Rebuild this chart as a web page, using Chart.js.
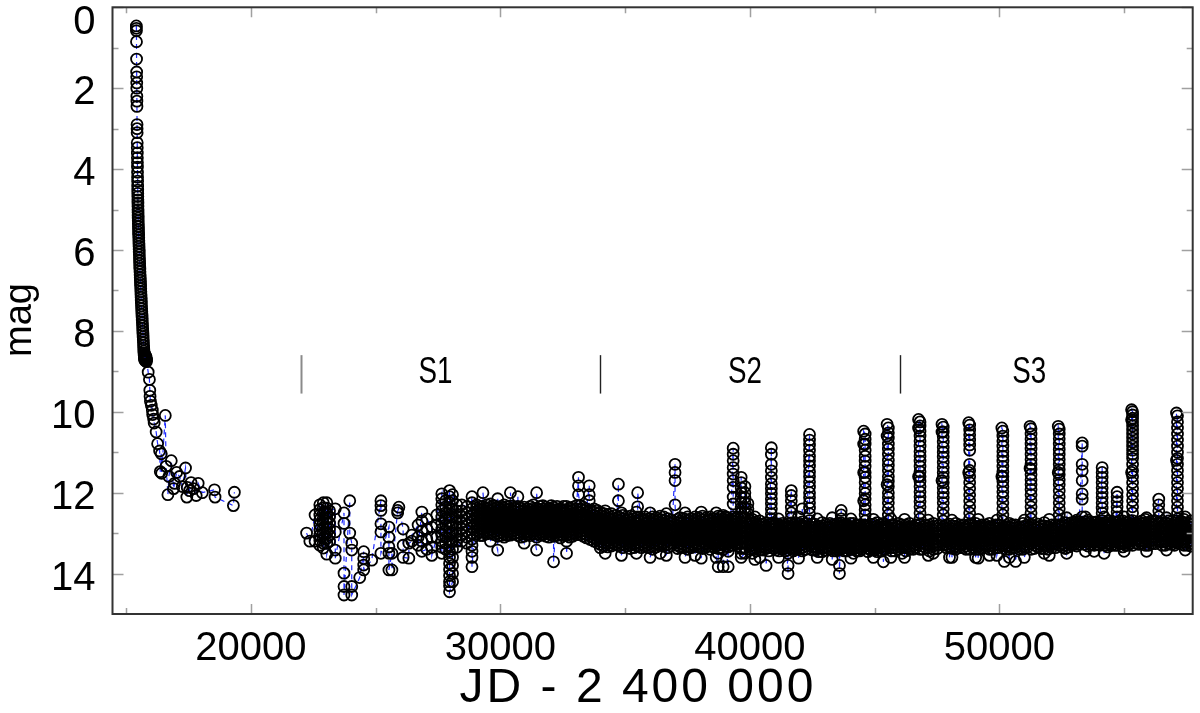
<!DOCTYPE html>
<html>
<head>
<meta charset="utf-8">
<script src="https://cdn.jsdelivr.net/npm/chart.js@4.4.1/dist/chart.umd.min.js"></script>
<style>
  html, body { margin: 0; padding: 0; background: #fff; }
</style>
</head>
<body>
<canvas id="lightCurve" width="1200" height="713"></canvas>
<script>
// axis ticks
const xMajor = [20000, 30000, 40000, 50000];
const xMinor = [15000, 25000, 35000, 45000, 55000];
const yMajor = [0, 2, 4, 6, 8, 10, 12, 14];
const yMinor = [1, 3, 5, 7, 9, 11, 13];

// season boundaries and their names
const segEdges = [22000, 34000, 46000];
const segNames = ["S1", "S2", "S3"];
const segNameJD = [27400, 39800, 51200];

// nova outburst and decline (JD - 2400000, mag)
const novaJD = [15405, 15407, 15409, 15412, 15415, 15418, 15420, 15422, 15424, 15426, 15428, 15430,
  15434, 15436, 15438, 15441, 15443, 15445, 15447, 15449, 15451, 15453, 15455, 15457, 15459, 15461,
  15463, 15465, 15467, 15469, 15471, 15473, 15475, 15477, 15480, 15483, 15486, 15489, 15492, 15495,
  15498, 15502, 15506, 15510, 15514, 15518, 15522, 15526, 15530, 15534, 15538, 15542, 15547, 15552,
  15557, 15562, 15567, 15572, 15577, 15582, 15587, 15592, 15597, 15602, 15607, 15612, 15618, 15624,
  15630, 15636, 15642, 15648, 15654, 15660, 15666, 15672, 15678, 15684, 15690, 15696, 15702, 15708,
  15714, 15720, 15726, 15732, 15738, 15744, 15750, 15756, 15762, 15768, 15774, 15780, 15786, 15792,
  15798, 15804, 15810, 15816,
  15880, 15930, 15945, 15955, 15970, 16006, 16046, 16060, 16098, 16120, 16200, 16258, 16338, 16366,
  16406, 16420, 16566, 16600, 16670, 16710, 16806, 16900, 16938, 17020, 17137, 17250, 17377, 17429,
  17445, 17537, 17600, 17700, 17805, 17885, 18050, 18537, 18560, 19296, 19336];
const novaMag = [0.46, 0.52, 0.58, 0.85, 1.28, 1.6, 1.72, 1.87, 2.0, 2.2, 2.32, 2.45,
  2.9, 3.0, 3.1, 3.35, 3.47, 3.6, 3.72, 3.84, 3.95, 4.08, 4.2, 4.3, 4.42, 4.52,
  4.6, 4.68, 4.76, 4.84, 4.92, 5.0, 5.07, 5.14, 5.21, 5.28, 5.35, 5.42, 5.49, 5.56,
  5.63, 5.7, 5.77, 5.84, 5.91, 5.98, 6.05, 6.12, 6.19, 6.26, 6.33, 6.4, 6.47, 6.54,
  6.61, 6.68, 6.75, 6.82, 6.89, 6.96, 7.03, 7.1, 7.17, 7.24, 7.31, 7.38, 7.45, 7.52,
  7.59, 7.66, 7.73, 7.8, 7.87, 7.94, 8.01, 8.08, 8.15, 8.22, 8.29, 8.36, 8.43, 8.5,
  8.55, 8.6, 8.64, 8.68, 8.72, 8.58, 8.63, 8.7, 8.74, 8.66, 8.71, 8.62, 8.69, 8.73,
  8.65, 8.7, 8.76, 8.72,
  9.02, 9.2, 9.47, 9.62, 9.74, 9.84, 9.96, 10.07, 10.18, 10.28, 10.5, 10.79, 10.97, 11.48,
  11.04, 11.52, 10.09, 11.35, 12.05, 11.6, 11.21, 11.9, 11.77, 11.5, 11.6, 11.85, 11.39, 12.11,
  11.87, 11.95, 11.75, 11.9, 12.07, 11.77, 12.0, 11.93, 12.11, 12.32, 11.99];

// quiescent light curve: [JD, mags observed around that date...]
const bandRows = [
  [22230, 13.0], [22360, 13.2], [22570, 12.55, 13.2],
  [22760, 12.3, 12.42, 12.55, 12.67, 12.8, 12.92, 13.05, 13.18, 13.3],
  [22900, 13.37, 13.25, 13.12, 13.0, 12.87, 12.75, 12.62, 12.5, 12.37, 12.25],
  [23040, 12.25, 12.38, 12.5, 12.63, 12.75, 12.88, 13.0, 13.13, 13.25, 13.52],
  [23150, 13.2, 13.05, 12.9, 12.75, 12.6, 12.45],
  [23380, 12.4, 12.97, 13.42, 13.62],
  [23730, 12.5, 12.76, 13.99, 14.32, 14.53],
  [23960, 12.2, 13.0],
  [24040, 13.25, 13.42, 14.32, 14.53],
  [24360, 14.1],
  [24520, 13.46, 13.63, 13.79, 13.91],
  [24840, 13.67],
  [25210, 12.2, 12.32, 12.44, 12.77, 12.97, 13.5],
  [25530, 12.85, 13.1, 13.34, 13.5, 13.91],
  [25650, 13.5, 13.91],
  [25880, 12.44, 12.5], [25930, 12.36],
  [26100, 12.9, 13.3, 13.6],
  [26330, 13.62, 13.25], [26450, 13.2, 13.05],
  [26700, 12.8, 13.1, 13.3],
  [26850, 12.48, 12.7, 12.95, 13.2, 13.45],
  [27050, 13.4, 13.15, 12.9, 12.65],
  [27250, 12.85, 13.1, 13.35, 13.55],
  [27450, 13.1, 12.8, 12.55],
  [27650, 12.03, 12.15, 12.3, 12.45, 12.6, 12.75, 12.9, 13.05, 13.2, 13.35, 13.5],
  [27800, 13.4, 13.25, 13.1, 12.95, 12.8, 12.65, 12.5, 12.35, 12.2],
  [27960, 11.95, 12.1, 12.25, 12.4, 12.55, 12.7, 12.85, 13.0, 13.15, 13.3, 13.45, 13.6, 13.75, 13.9, 14.05, 14.2, 14.3, 14.45],
  [28080, 14.2, 14.0, 13.8, 13.6, 13.4, 13.2, 13.0, 12.8, 12.6, 12.4, 12.2, 12.05],
  [28250, 12.3, 12.45, 12.6, 12.75, 12.9, 13.05, 13.2, 13.35],
  [28450, 13.2, 13.05, 12.9, 12.75, 12.6, 12.45, 12.3],
  [28650, 12.35, 12.5, 12.65, 12.8, 12.95, 13.1, 13.25],
  [28860, 12.1, 12.25, 12.4, 12.55, 12.7, 12.85, 13.0, 13.15, 13.3, 13.45, 13.6, 13.83],
  [29050, 12.3, 12.38, 12.46, 12.54, 12.62, 12.7, 12.78, 12.86, 12.94, 13.02],
  [29300, 13.06, 12.98, 12.9, 12.82, 12.74, 12.66, 12.58, 12.5, 12.42, 12.34, 12.0],
  [29600, 12.28, 12.36, 12.44, 12.52, 12.6, 12.68, 12.76, 12.84, 12.92, 13.0, 13.2],
  [29890, 13.42, 13.08, 13.0, 12.92, 12.84, 12.76, 12.68, 12.6, 12.52, 12.44, 12.36, 12.15],
  [30150, 12.3, 12.38, 12.46, 12.54, 12.62, 12.7, 12.78, 12.86, 12.94, 13.02, 13.1],
  [30400, 13.05, 12.97, 12.89, 12.81, 12.73, 12.65, 12.57, 12.49, 12.41, 12.33, 12.0],
  [30700, 12.1, 12.34, 12.42, 12.5, 12.58, 12.66, 12.74, 12.82, 12.9, 12.98, 13.06],
  [30950, 13.25, 13.08, 13.0, 12.92, 12.84, 12.76, 12.68, 12.6, 12.52, 12.44, 12.36],
  [31200, 12.34, 12.42, 12.5, 12.58, 12.66, 12.74, 12.82, 12.9, 12.98, 13.06],
  [31450, 13.42, 13.1, 13.02, 12.94, 12.86, 12.78, 12.7, 12.62, 12.54, 12.46, 12.38, 12.0],
  [31700, 12.32, 12.4, 12.48, 12.56, 12.64, 12.72, 12.8, 12.88, 12.96, 13.04],
  [31950, 13.1, 13.02, 12.94, 12.86, 12.78, 12.7, 12.62, 12.54, 12.46, 12.38],
  [32130, 12.36, 12.44, 12.52, 12.6, 12.68, 12.76, 12.84, 12.92, 13.0, 13.08, 13.71],
  [32400, 13.12, 13.04, 12.96, 12.88, 12.8, 12.72, 12.64, 12.56, 12.48, 12.4],
  [32650, 12.34, 12.42, 12.5, 12.58, 12.66, 12.74, 12.82, 12.9, 12.98, 13.06, 13.2, 13.5],
  [32900, 13.08, 13.0, 12.92, 12.84, 12.76, 12.68, 12.6, 12.52, 12.44, 12.36],
  [33200, 12.32, 12.4, 12.48, 12.56, 12.64, 12.72, 12.8, 12.88, 12.96, 13.04],
  [33450, 13.12, 13.04, 12.96, 12.88, 12.8, 12.72, 12.64, 12.56, 12.48, 12.4],
  [33750, 12.4, 12.48, 12.56, 12.64, 12.72, 12.8, 12.88, 12.96, 13.04, 13.12, 13.2],
  [34000, 12.48, 12.56, 12.64, 12.72, 12.8, 12.88, 12.96, 13.04, 13.12, 13.2, 13.28, 13.36],
  [34300, 13.34, 13.26, 13.18, 13.1, 13.02, 12.94, 12.86, 12.78, 12.7, 12.62, 12.54],
  [34600, 12.56, 12.64, 12.72, 12.8, 12.88, 12.96, 13.04, 13.12, 13.2, 13.28],
  [34900, 13.36, 13.28, 13.2, 13.12, 13.04, 12.96, 12.88, 12.8, 12.72, 12.64, 12.56],
  [35200, 12.58, 12.66, 12.74, 12.82, 12.9, 12.98, 13.06, 13.14, 13.22, 13.3, 13.38],
  [35500, 13.32, 13.24, 13.16, 13.08, 13.0, 12.92, 12.84, 12.76, 12.68, 12.6, 12.35, 12.0],
  [35800, 12.6, 12.68, 12.76, 12.84, 12.92, 13.0, 13.08, 13.16, 13.24, 13.32],
  [36100, 13.4, 13.32, 13.24, 13.16, 13.08, 13.0, 12.92, 12.84, 12.76, 12.68, 12.6],
  [36400, 12.58, 12.66, 12.74, 12.82, 12.9, 12.98, 13.06, 13.14, 13.22, 13.3, 13.5],
  [36700, 13.36, 13.28, 13.2, 13.12, 13.04, 12.96, 12.88, 12.8, 12.72, 12.64],
  [37200, 12.62, 12.7, 12.78, 12.86, 12.94, 13.02, 13.1, 13.18, 13.26, 13.34],
  [37500, 13.4, 13.32, 13.24, 13.16, 13.08, 13.0, 12.92, 12.84, 12.76, 12.68, 12.6],
  [37800, 12.6, 12.68, 12.76, 12.84, 12.92, 13.0, 13.08, 13.16, 13.24, 13.32, 13.55],
  [38100, 13.38, 13.3, 13.22, 13.14, 13.06, 12.98, 12.9, 12.82, 12.74, 12.66, 12.58],
  [38400, 12.6, 12.68, 12.76, 12.84, 12.92, 13.0, 13.08, 13.16, 13.24, 13.32, 13.4],
  [38730, 13.83, 13.5, 13.38, 13.3, 13.22, 13.14, 13.06, 12.98, 12.9, 12.82, 12.74, 12.66, 12.58],
  [38930, 12.56, 12.64, 12.72, 12.8, 12.88, 12.96, 13.04, 13.12, 13.2, 13.28, 13.4, 13.83],
  [39130, 13.83, 13.45, 13.34, 13.26, 13.18, 13.1, 13.02, 12.94, 12.86, 12.78, 12.7, 12.62],
  [39500, 12.6, 12.68, 12.76, 12.84, 12.92, 13.0, 13.08, 13.16, 13.24, 13.32],
  [40100, 12.66, 12.74, 12.82, 12.9, 12.98, 13.06, 13.14, 13.22, 13.3, 13.38, 13.5],
  [40400, 13.6, 13.42, 13.34, 13.26, 13.18, 13.1, 13.02, 12.94, 12.86, 12.78, 12.7],
  [40650, 12.74, 12.82, 12.9, 12.98, 13.06, 13.14, 13.22, 13.3, 13.38, 13.8],
  [41050, 13.42, 13.34, 13.26, 13.18, 13.1, 13.02, 12.94, 12.86, 12.78],
  [41300, 12.76, 12.84, 12.92, 13.0, 13.08, 13.16, 13.24, 13.32, 13.4],
  [41530, 14.0, 13.8, 13.5, 13.42, 13.34, 13.26, 13.18, 13.1, 13.02, 12.94, 12.86, 12.78],
  [41850, 12.76, 12.84, 12.92, 13.0, 13.08, 13.16, 13.24, 13.32, 13.4],
  [42100, 13.44, 13.36, 13.28, 13.2, 13.12, 13.04, 12.96, 12.88, 12.8, 12.72, 12.4],
  [42600, 12.78, 12.86, 12.94, 13.02, 13.1, 13.18, 13.26, 13.34, 13.42],
  [42900, 13.46, 13.38, 13.3, 13.22, 13.14, 13.06, 12.98, 12.9, 12.82, 12.74],
  [43200, 12.76, 12.84, 12.92, 13.0, 13.08, 13.16, 13.24, 13.32, 13.4],
  [43450, 13.44, 13.36, 13.28, 13.2, 13.12, 13.04, 12.96, 12.88, 12.8],
  [43590, 12.78, 12.86, 12.94, 13.02, 13.1, 13.18, 13.26, 13.34, 13.42, 13.8, 14.0],
  [43900, 13.44, 13.36, 13.28, 13.2, 13.12, 13.04, 12.96, 12.88, 12.8],
  [44150, 12.76, 12.84, 12.92, 13.0, 13.08, 13.16, 13.24, 13.32, 13.4, 13.5],
  [44400, 13.44, 13.36, 13.28, 13.2, 13.12, 13.04, 12.96, 12.88, 12.8],
  [44850, 12.78, 12.86, 12.94, 13.02, 13.1, 13.18, 13.26, 13.34, 13.42],
  [45100, 13.46, 13.38, 13.3, 13.22, 13.14, 13.06, 12.98, 12.9, 12.82, 12.74],
  [45350, 12.76, 12.84, 12.92, 13.0, 13.08, 13.16, 13.24, 13.32, 13.4, 13.71],
  [45800, 13.44, 13.36, 13.28, 13.2, 13.12, 13.04, 12.96, 12.88, 12.8],
  [46100, 12.8, 12.88, 12.96, 13.04, 13.12, 13.2, 13.28, 13.36, 13.5],
  [46400, 13.4, 13.32, 13.24, 13.16, 13.08, 13.0, 12.92, 12.84, 12.76],
  [47050, 12.8, 12.88, 12.96, 13.04, 13.12, 13.2, 13.28, 13.36],
  [47350, 13.5, 13.4, 13.32, 13.24, 13.16, 13.08, 13.0, 12.92, 12.84, 12.76],
  [48000, 12.78, 12.86, 12.94, 13.02, 13.1, 13.18, 13.26, 13.34, 13.6],
  [48250, 13.4, 13.32, 13.24, 13.16, 13.08, 13.0, 12.92, 12.84, 12.76],
  [48550, 12.8, 12.88, 12.96, 13.04, 13.12, 13.2, 13.28, 13.36],
  [49050, 13.6, 13.4, 13.32, 13.24, 13.16, 13.08, 13.0, 12.92, 12.84, 12.76],
  [49300, 12.8, 12.88, 12.96, 13.04, 13.12, 13.2, 13.28, 13.36],
  [49600, 13.55, 13.4, 13.32, 13.24, 13.16, 13.08, 13.0, 12.92, 12.84, 12.76],
  [49850, 12.8, 12.88, 12.96, 13.04, 13.12, 13.2, 13.28, 13.36],
  [50400, 13.6, 13.4, 13.32, 13.24, 13.16, 13.08, 13.0, 12.92, 12.84, 12.76],
  [50650, 12.8, 12.88, 12.96, 13.04, 13.12, 13.2, 13.28, 13.36, 13.7],
  [50950, 13.4, 13.32, 13.24, 13.16, 13.08, 13.0, 12.92, 12.84, 12.76],
  [51550, 12.78, 12.86, 12.94, 13.02, 13.1, 13.18, 13.26, 13.34],
  [51800, 13.5, 13.38, 13.3, 13.22, 13.14, 13.06, 12.98, 12.9, 12.82, 12.74],
  [52100, 12.8, 12.88, 12.96, 13.04, 13.12, 13.2, 13.28, 13.36],
  [52650, 13.38, 13.3, 13.22, 13.14, 13.06, 12.98, 12.9, 12.82, 12.74],
  [52900, 12.74, 12.82, 12.9, 12.98, 13.06, 13.14, 13.22, 13.3],
  [53100, 13.32, 13.24, 13.16, 13.08, 13.0, 12.92, 12.84, 12.76, 12.68],
  [53550, 12.68, 12.76, 12.84, 12.92, 13.0, 13.08, 13.16, 13.24, 13.32],
  [53800, 13.45, 13.3, 13.22, 13.14, 13.06, 12.98, 12.9, 12.82, 12.74],
  [54350, 12.7, 12.78, 12.86, 12.94, 13.02, 13.1, 13.18, 13.26, 13.34],
  [54500, 13.3, 13.22, 13.14, 13.06, 12.98, 12.9, 12.82, 12.74],
  [54950, 12.7, 12.78, 12.86, 12.94, 13.02, 13.1, 13.18, 13.26, 13.34],
  [55150, 13.3, 13.22, 13.14, 13.06, 12.98, 12.9, 12.82, 12.74],
  [55600, 12.72, 12.8, 12.88, 12.96, 13.04, 13.12, 13.2, 13.28],
  [55850, 13.3, 13.22, 13.14, 13.06, 12.98, 12.9, 12.82, 12.74, 12.66],
  [56100, 12.7, 12.78, 12.86, 12.94, 13.02, 13.1, 13.18, 13.26],
  [56650, 13.3, 13.22, 13.14, 13.06, 12.98, 12.9, 12.82, 12.74],
  [56900, 12.72, 12.8, 12.88, 12.96, 13.04, 13.12, 13.2, 13.28],
  [57400, 13.3, 13.22, 13.14, 13.06, 12.98, 12.9, 12.82, 12.74, 12.66],
  [57680, 12.7, 12.78, 12.86, 12.94, 13.02, 13.1, 13.18, 13.26, 13.32]
];

// more nights inside the dense quiescent band, between the columns above
const bandFillRows = [
  [29180, 12.34, 12.42, 12.5, 12.58, 12.66, 12.74, 12.82, 12.9, 12.98, 13.06],
  [29450, 13.02, 12.94, 12.86, 12.78, 12.7, 12.62, 12.54, 12.46, 12.38, 12.3],
  [29750, 12.32, 12.4, 12.48, 12.56, 12.64, 12.72, 12.8, 12.88, 12.96, 13.04],
  [30020, 13.06, 12.98, 12.9, 12.82, 12.74, 12.66, 12.58, 12.5, 12.42, 12.34],
  [30280, 12.34, 12.42, 12.5, 12.58, 12.66, 12.74, 12.82, 12.9, 12.98, 13.06],
  [30550, 13.02, 12.94, 12.86, 12.78, 12.7, 12.62, 12.54, 12.46, 12.38],
  [30820, 12.38, 12.46, 12.54, 12.62, 12.7, 12.78, 12.86, 12.94, 13.02, 13.1],
  [31080, 13.04, 12.96, 12.88, 12.8, 12.72, 12.64, 12.56, 12.48, 12.4],
  [31320, 12.3, 12.38, 12.46, 12.54, 12.62, 12.7, 12.78, 12.86, 12.94, 13.02],
  [31580, 13.06, 12.98, 12.9, 12.82, 12.74, 12.66, 12.58, 12.5, 12.42, 12.34],
  [31820, 12.36, 12.44, 12.52, 12.6, 12.68, 12.76, 12.84, 12.92, 13.0, 13.08],
  [32040, 13.04, 12.96, 12.88, 12.8, 12.72, 12.64, 12.56, 12.48, 12.4, 12.32],
  [32270, 12.34, 12.42, 12.5, 12.58, 12.66, 12.74, 12.82, 12.9, 12.98, 13.06],
  [32520, 13.06, 12.98, 12.9, 12.82, 12.74, 12.66, 12.58, 12.5, 12.42, 12.34],
  [32780, 12.38, 12.46, 12.54, 12.62, 12.7, 12.78, 12.86, 12.94, 13.02, 13.1],
  [33050, 13.04, 12.96, 12.88, 12.8, 12.72, 12.64, 12.56, 12.48, 12.4, 12.32],
  [33320, 12.36, 12.44, 12.52, 12.6, 12.68, 12.76, 12.84, 12.92, 13.0, 13.08],
  [33600, 13.16, 13.08, 13.0, 12.92, 12.84, 12.76, 12.68, 12.6, 12.52, 12.44],
  [33880, 12.44, 12.52, 12.6, 12.68, 12.76, 12.84, 12.92, 13.0, 13.08, 13.16, 13.24],
  [34150, 13.32, 13.24, 13.16, 13.08, 13.0, 12.92, 12.84, 12.76, 12.68, 12.6, 12.52],
  [34450, 12.52, 12.6, 12.68, 12.76, 12.84, 12.92, 13.0, 13.08, 13.16, 13.24, 13.32],
  [34750, 13.32, 13.24, 13.16, 13.08, 13.0, 12.92, 12.84, 12.76, 12.68, 12.6],
  [35050, 12.6, 12.68, 12.76, 12.84, 12.92, 13.0, 13.08, 13.16, 13.24, 13.32],
  [35350, 13.36, 13.28, 13.2, 13.12, 13.04, 12.96, 12.88, 12.8, 12.72, 12.64],
  [35650, 12.64, 12.72, 12.8, 12.88, 12.96, 13.04, 13.12, 13.2, 13.28, 13.36],
  [35950, 13.36, 13.28, 13.2, 13.12, 13.04, 12.96, 12.88, 12.8, 12.72, 12.64],
  [36250, 12.62, 12.7, 12.78, 12.86, 12.94, 13.02, 13.1, 13.18, 13.26, 13.34],
  [36550, 13.32, 13.24, 13.16, 13.08, 13.0, 12.92, 12.84, 12.76, 12.68, 12.6],
  [36850, 12.68, 12.76, 12.84, 12.92, 13.0, 13.08, 13.16, 13.24, 13.32],
  [37100, 13.38, 13.3, 13.22, 13.14, 13.06, 12.98, 12.9, 12.82, 12.74, 12.66],
  [37350, 12.64, 12.72, 12.8, 12.88, 12.96, 13.04, 13.12, 13.2, 13.28, 13.36],
  [37650, 13.36, 13.28, 13.2, 13.12, 13.04, 12.96, 12.88, 12.8, 12.72, 12.64],
  [37950, 12.62, 12.7, 12.78, 12.86, 12.94, 13.02, 13.1, 13.18, 13.26, 13.34],
  [38250, 13.34, 13.26, 13.18, 13.1, 13.02, 12.94, 12.86, 12.78, 12.7, 12.62],
  [38570, 12.64, 12.72, 12.8, 12.88, 12.96, 13.04, 13.12, 13.2, 13.28, 13.36],
  [38830, 13.36, 13.24, 13.16, 13.08, 13.0, 12.92, 12.84, 12.76, 12.68, 12.6],
  [39030, 12.6, 12.68, 12.76, 12.84, 12.92, 13.0, 13.08, 13.16, 13.24, 13.32],
  [39230, 13.3, 13.22, 13.14, 13.06, 12.98, 12.9, 12.82, 12.74, 12.66],
  [39420, 12.64, 12.72, 12.8, 12.88, 12.96, 13.04, 13.12, 13.2, 13.28],
  [40000, 13.4, 13.32, 13.24, 13.16, 13.08, 13.0, 12.92, 12.84, 12.76, 12.68],
  [40250, 12.72, 12.8, 12.88, 12.96, 13.04, 13.12, 13.2, 13.28, 13.36, 13.44],
  [40530, 13.42, 13.34, 13.26, 13.18, 13.1, 13.02, 12.94, 12.86, 12.78],
  [40760, 12.8, 12.88, 12.96, 13.04, 13.12, 13.2, 13.28, 13.36, 13.44],
  [40950, 13.38, 13.3, 13.22, 13.14, 13.06, 12.98, 12.9, 12.82, 12.74],
  [41180, 12.8, 12.88, 12.96, 13.04, 13.12, 13.2, 13.28, 13.36, 13.44],
  [41420, 13.44, 13.36, 13.28, 13.2, 13.12, 13.04, 12.96, 12.88, 12.8],
  [41740, 12.8, 12.88, 12.96, 13.04, 13.12, 13.2, 13.28, 13.36, 13.44],
  [41980, 13.4, 13.32, 13.24, 13.16, 13.08, 13.0, 12.92, 12.84, 12.76],
  [42250, 12.76, 12.84, 12.92, 13.0, 13.08, 13.16, 13.24, 13.32, 13.4],
  [42500, 13.42, 13.34, 13.26, 13.18, 13.1, 13.02, 12.94, 12.86, 12.78],
  [42750, 12.82, 12.9, 12.98, 13.06, 13.14, 13.22, 13.3, 13.38, 13.46],
  [43050, 13.42, 13.34, 13.26, 13.18, 13.1, 13.02, 12.94, 12.86, 12.78],
  [43330, 12.8, 12.88, 12.96, 13.04, 13.12, 13.2, 13.28, 13.36, 13.44],
  [43520, 13.4, 13.32, 13.24, 13.16, 13.08, 13.0, 12.92, 12.84, 12.76],
  [43780, 12.8, 12.88, 12.96, 13.04, 13.12, 13.2, 13.28, 13.36, 13.44],
  [44020, 13.4, 13.32, 13.24, 13.16, 13.08, 13.0, 12.92, 12.84, 12.76],
  [44280, 12.8, 12.88, 12.96, 13.04, 13.12, 13.2, 13.28, 13.36, 13.44],
  [44480, 13.4, 13.32, 13.24, 13.16, 13.08, 13.0, 12.92, 12.84],
  [44730, 12.82, 12.9, 12.98, 13.06, 13.14, 13.22, 13.3, 13.38, 13.46],
  [44980, 13.42, 13.34, 13.26, 13.18, 13.1, 13.02, 12.94, 12.86, 12.78],
  [45230, 12.8, 12.88, 12.96, 13.04, 13.12, 13.2, 13.28, 13.36, 13.44],
  [45430, 13.4, 13.32, 13.24, 13.16, 13.08, 13.0, 12.92, 12.84],
  [45680, 12.8, 12.88, 12.96, 13.04, 13.12, 13.2, 13.28, 13.36, 13.44],
  [45950, 13.4, 13.32, 13.24, 13.16, 13.08, 13.0, 12.92, 12.84, 12.76],
  [46250, 13.44, 13.36, 13.28, 13.2, 13.12, 13.04, 12.96, 12.88, 12.8],
  [46550, 12.84, 12.92, 13.0, 13.08, 13.16, 13.24, 13.32, 13.4],
  [46650, 13.36, 13.28, 13.2, 13.12, 13.04, 12.96, 12.88, 12.8],
  [46930, 12.84, 12.92, 13.0, 13.08, 13.16, 13.24, 13.32, 13.4],
  [47200, 13.44, 13.36, 13.28, 13.2, 13.12, 13.04, 12.96, 12.88, 12.8],
  [47520, 12.82, 12.9, 12.98, 13.06, 13.14, 13.22, 13.3, 13.38],
  [47870, 13.36, 13.28, 13.2, 13.12, 13.04, 12.96, 12.88, 12.8],
  [48120, 12.82, 12.9, 12.98, 13.06, 13.14, 13.22, 13.3, 13.38],
  [48400, 13.36, 13.28, 13.2, 13.12, 13.04, 12.96, 12.88, 12.8],
  [48660, 12.84, 12.92, 13.0, 13.08, 13.16, 13.24, 13.32, 13.4],
  [48930, 13.36, 13.28, 13.2, 13.12, 13.04, 12.96, 12.88, 12.8],
  [49180, 12.84, 12.92, 13.0, 13.08, 13.16, 13.24, 13.32, 13.4],
  [49450, 13.36, 13.28, 13.2, 13.12, 13.04, 12.96, 12.88, 12.8],
  [49730, 12.84, 12.92, 13.0, 13.08, 13.16, 13.24, 13.32, 13.4],
  [49980, 13.36, 13.28, 13.2, 13.12, 13.04, 12.96, 12.88, 12.8],
  [50270, 12.84, 12.92, 13.0, 13.08, 13.16, 13.24, 13.32, 13.4],
  [50520, 13.36, 13.28, 13.2, 13.12, 13.04, 12.96, 12.88, 12.8],
  [50800, 12.84, 12.92, 13.0, 13.08, 13.16, 13.24, 13.32, 13.4],
  [51100, 13.36, 13.28, 13.2, 13.12, 13.04, 12.96, 12.88, 12.8],
  [51400, 12.82, 12.9, 12.98, 13.06, 13.14, 13.22, 13.3, 13.38],
  [51680, 13.38, 13.3, 13.22, 13.14, 13.06, 12.98, 12.9, 12.82],
  [51950, 12.84, 12.92, 13.0, 13.08, 13.16, 13.24, 13.32, 13.4],
  [52250, 13.36, 13.28, 13.2, 13.12, 13.04, 12.96, 12.88, 12.8],
  [52520, 12.78, 12.86, 12.94, 13.02, 13.1, 13.18, 13.26, 13.34],
  [52780, 13.34, 13.26, 13.18, 13.1, 13.02, 12.94, 12.86, 12.78],
  [53000, 12.72, 12.8, 12.88, 12.96, 13.04, 13.12, 13.2, 13.28],
  [53200, 13.28, 13.2, 13.12, 13.04, 12.96, 12.88, 12.8, 12.72],
  [53430, 12.72, 12.8, 12.88, 12.96, 13.04, 13.12, 13.2, 13.28],
  [53680, 13.28, 13.2, 13.12, 13.04, 12.96, 12.88, 12.8, 12.72],
  [53900, 12.72, 12.8, 12.88, 12.96, 13.04, 13.12, 13.2, 13.28],
  [54030, 13.3, 13.22, 13.14, 13.06, 12.98, 12.9, 12.82, 12.74],
  [54240, 12.74, 12.82, 12.9, 12.98, 13.06, 13.14, 13.22, 13.3],
  [54420, 13.26, 13.18, 13.1, 13.02, 12.94, 12.86, 12.78, 12.7],
  [54620, 12.74, 12.82, 12.9, 12.98, 13.06, 13.14, 13.22, 13.3],
  [54830, 13.26, 13.18, 13.1, 13.02, 12.94, 12.86, 12.78, 12.7],
  [55050, 12.74, 12.82, 12.9, 12.98, 13.06, 13.14, 13.22, 13.3],
  [55230, 13.26, 13.18, 13.1, 13.02, 12.94, 12.86, 12.78, 12.7],
  [55470, 12.76, 12.84, 12.92, 13.0, 13.08, 13.16, 13.24],
  [55720, 13.26, 13.18, 13.1, 13.02, 12.94, 12.86, 12.78, 12.7],
  [55980, 12.74, 12.82, 12.9, 12.98, 13.06, 13.14, 13.22, 13.3],
  [56250, 13.26, 13.18, 13.1, 13.02, 12.94, 12.86, 12.78, 12.7],
  [56520, 12.74, 12.82, 12.9, 12.98, 13.06, 13.14, 13.22, 13.3],
  [56780, 13.26, 13.18, 13.1, 13.02, 12.94, 12.86, 12.78, 12.7],
  [57020, 12.74, 12.82, 12.9, 12.98, 13.06, 13.14, 13.22, 13.3],
  [57270, 13.26, 13.18, 13.1, 13.02, 12.94, 12.86, 12.78, 12.7],
  [57540, 12.74, 12.82, 12.9, 12.98, 13.06, 13.14, 13.22, 13.3]
];

// scattered nights just above and below the quiescent band
const edgeRows = [
  [34200, 12.45, 13.5], [34850, 12.5, 13.55], [35450, 12.48, 13.5], [36000, 12.5, 13.6],
  [36650, 12.52, 13.55], [37400, 12.5, 13.6], [38050, 12.48, 13.62], [38650, 12.5, 13.6],
  [40200, 12.6, 13.65], [41150, 12.65, 13.6], [41950, 12.6, 13.62], [42700, 12.65, 13.6],
  [43300, 12.62, 13.65], [44050, 12.65, 13.62], [44950, 12.66, 13.6], [45650, 12.65, 13.6],
  [46200, 12.66, 13.6], [47150, 12.68, 13.55], [48100, 12.68, 13.6], [49150, 12.66, 13.62],
  [49900, 12.68, 13.55], [50200, 13.7], [51000, 12.68, 13.6], [52000, 12.66, 13.55],
  [52700, 12.62, 13.5], [53450, 12.6, 13.45], [54200, 12.6, 13.5], [55000, 12.6, 13.45],
  [55900, 12.62, 13.45], [56700, 12.62, 13.42], [57450, 12.6, 13.42]
];

// recurrent brightenings: [JD, mags from peak back to quiescence]
const flareRows = [
  [33130, 11.62, 11.83, 12.05],
  [33560, 11.83, 12.05, 12.2],
  [34730, 11.79, 12.2],
  [37000, 11.3, 11.5, 11.7, 12.3],
  [39330, 10.9, 11.05, 11.21, 11.38, 11.54, 11.7, 11.87, 12.11, 12.28, 12.6, 12.9],
  [39650, 11.62, 11.75, 11.88, 12.0, 12.12, 12.25, 12.38, 12.5, 12.62, 12.75, 12.88, 13.0, 13.12, 13.25, 13.38, 13.5, 13.6],
  [39800, 13.5, 13.38, 13.25, 13.12, 13.0, 12.88, 12.75, 12.62, 12.5, 12.38, 12.25, 12.12, 12.0, 11.85],
  [39920, 12.27, 12.4, 12.52, 12.65, 12.78, 12.9, 13.02, 13.15, 13.28],
  [40860, 10.89, 11.05, 11.3, 11.46, 11.62, 11.78, 11.9, 12.02, 12.15, 12.27, 12.4, 12.52, 12.64, 12.76, 12.9, 13.05, 13.2],
  [41660, 11.95, 12.07, 12.2, 12.36, 12.5, 12.62, 12.75, 12.88, 13.0, 13.12, 13.25, 13.38],
  [42390, 10.56, 10.7, 10.82, 10.95, 11.1, 11.21, 11.34, 11.48, 11.6, 11.73, 11.86, 12.0, 12.12, 12.25, 12.38, 12.52, 12.69, 12.85, 13.0, 13.15, 13.3],
  [43660, 12.44, 12.55, 12.65, 12.75, 12.86, 13.0, 13.12, 13.25, 13.4],
  [44560, 13.2, 12.8, 12.2, 11.5, 10.8, 10.48],
  [44620, 10.55, 10.68, 10.8, 10.95, 11.1, 11.22, 11.35, 11.5, 11.62, 11.75, 11.9, 12.02, 12.15, 12.3, 12.42, 12.55, 12.7, 12.85, 13.0, 13.15, 13.3],
  [45500, 13.2, 12.9, 11.8, 10.6, 10.31],
  [45550, 10.4, 10.52, 10.65, 10.8, 10.92, 11.05, 11.2, 11.32, 11.45, 11.6, 11.72, 11.85, 12.0, 12.12, 12.25, 12.4, 12.55, 12.7, 12.85, 13.0, 13.15, 13.3],
  [46760, 13.2, 12.9, 11.6, 10.4, 10.19],
  [46820, 10.25, 10.35, 10.48, 10.6, 10.72, 10.85, 10.98, 11.1, 11.22, 11.35, 11.48, 11.6, 11.72, 11.85, 11.98, 12.1, 12.22, 12.35, 12.5, 12.65, 12.8, 12.95, 13.1, 13.25, 13.4],
  [47700, 13.2, 12.9, 11.7, 10.5, 10.31],
  [47750, 10.38, 10.5, 10.62, 10.75, 10.88, 11.0, 11.12, 11.25, 11.38, 11.5, 11.62, 11.75, 11.88, 12.0, 12.12, 12.25, 12.4, 12.55, 12.7, 12.85, 13.0, 13.15, 13.3],
  [48770, 13.2, 12.8, 11.5, 10.27],
  [48810, 10.33, 10.45, 10.57, 10.7, 10.82, 10.95, 11.3, 11.45, 11.6, 11.75, 11.9, 12.05, 12.2, 12.35, 12.5, 12.65, 12.8, 12.95, 13.1, 13.25, 13.4],
  [50100, 13.2, 12.9, 11.6, 10.4],
  [50140, 10.48, 10.6, 10.72, 10.85, 10.98, 11.1, 11.22, 11.35, 11.48, 11.6, 11.72, 11.85, 11.98, 12.1, 12.25, 12.4, 12.55, 12.7, 12.85, 13.0, 13.15, 13.3],
  [51230, 13.2, 12.85, 11.4, 10.36],
  [51270, 10.42, 10.55, 10.68, 10.8, 10.92, 11.05, 11.18, 11.3, 11.42, 11.55, 11.68, 11.8, 11.92, 12.05, 12.2, 12.35, 12.5, 12.65, 12.8, 12.95, 13.1, 13.25, 13.4],
  [52360, 13.2, 12.8, 11.5, 10.36],
  [52400, 10.43, 10.55, 10.67, 10.8, 10.93, 11.05, 11.18, 11.3, 11.43, 11.55, 11.68, 11.8, 11.95, 12.1, 12.25, 12.4, 12.55, 12.7, 12.85, 13.0, 13.15, 13.3],
  [53320, 10.77, 10.85, 11.3, 11.46, 11.7, 12.03, 12.16, 12.6, 12.75, 12.9, 13.05, 13.2],
  [54120, 11.38, 11.5, 11.62, 11.75, 11.88, 12.0, 12.12, 12.25, 12.38, 12.5, 12.69, 12.82, 12.95, 13.1, 13.25],
  [54720, 11.99, 12.1, 12.22, 12.35, 12.47, 12.6, 12.72, 12.85, 13.0, 13.15, 13.3],
  [55300, 13.2, 12.8, 11.5, 10.2, 9.95],
  [55340, 10.0, 10.08, 10.16, 10.25, 10.35, 10.45, 10.55, 10.65, 10.75, 10.85, 10.95, 11.05, 11.15, 11.3, 11.45, 11.6, 11.75, 11.9, 12.05, 12.2, 12.35, 12.5, 12.69, 12.85, 13.0, 13.15, 13.3],
  [56390, 12.16, 12.3, 12.45, 12.6, 12.75, 12.9, 13.05, 13.2],
  [57100, 13.2, 12.7, 11.2, 10.03],
  [57140, 10.1, 10.25, 10.4, 10.55, 10.7, 10.85, 11.0, 11.15, 11.3, 11.45, 11.6, 11.75, 11.9, 12.05, 12.2, 12.36, 12.5, 12.65, 12.8, 12.95, 13.1, 13.25]
];

const font = '"Liberation Sans", Arial, Helvetica, sans-serif';

const novaPoints = novaJD.map((jd, i) => ({ x: jd, y: novaMag[i] }));
const quietPoints = [];
bandRows.concat(bandFillRows, edgeRows, flareRows)
  .sort((a, b) => a[0] - b[0])
  .forEach(row => row.slice(1).forEach(m => quietPoints.push({ x: row[0], y: m })));

const curveStyle = {
  showLine: true,
  borderColor: "#1f2bff",
  borderWidth: 1.2,
  borderDash: [5, 4],
  pointRadius: 5.5,
  pointHoverRadius: 5.5,
  pointBorderWidth: 1.8,
  pointBorderColor: "#000",
  pointBackgroundColor: "rgba(0,0,0,0)",
  fill: false,
  tension: 0
};

// frame, inward ticks, y labels, axis titles, season markers
const framePlugin = {
  id: "frame",
  afterDatasetsDraw(chart) {
    const { ctx, chartArea: a } = chart;
    const xs = chart.scales.x;
    const ys = chart.scales.y;
    ctx.save();

    ctx.strokeStyle = "#a0a0a0";
    ctx.lineWidth = 1.5;
    ctx.beginPath();
    const tickX = (v, len) => {
      const p = Math.round(xs.getPixelForValue(v)) + 0.5;
      ctx.moveTo(p, a.bottom); ctx.lineTo(p, a.bottom - len);
      ctx.moveTo(p, a.top); ctx.lineTo(p, a.top + len);
    };
    const tickY = (v, len) => {
      const p = Math.round(ys.getPixelForValue(v)) + 0.5;
      ctx.moveTo(a.left, p); ctx.lineTo(a.left + len, p);
      ctx.moveTo(a.right, p); ctx.lineTo(a.right - len, p);
    };
    xMajor.forEach(v => tickX(v, 10));
    xMinor.forEach(v => tickX(v, 6));
    yMajor.forEach(v => tickY(v, 11));
    yMinor.forEach(v => tickY(v, 6));
    ctx.stroke();

    ctx.strokeStyle = "#333";
    ctx.lineWidth = 2;
    ctx.strokeRect(a.left, a.top, a.right - a.left, a.bottom - a.top);

    // y tick labels
    ctx.fillStyle = "#000";
    ctx.font = "40px " + font;
    ctx.textAlign = "right";
    ctx.textBaseline = "middle";
    yMajor.forEach(v => {
      const p = Math.max(ys.getPixelForValue(v) + 5, a.top + 16);
      ctx.fillText(String(v), a.left - 17, p);
    });

    // axis titles
    ctx.textAlign = "center";
    ctx.textBaseline = "alphabetic";
    ctx.font = "48px " + font;
    ctx.letterSpacing = "3px";
    ctx.fillText("JD - 2 400 000", 638, 702);
    ctx.letterSpacing = "0px";
    ctx.save();
    ctx.translate(31, 320);
    ctx.rotate(-Math.PI / 2);
    ctx.font = "38px " + font;
    ctx.fillText("mag", 0, 0);
    ctx.restore();

    // season markers
    segEdges.forEach((jd, i) => {
      const px = Math.round(xs.getPixelForValue(jd)) + 0.5;
      ctx.strokeStyle = i === 0 ? "#8a8a8a" : "#222";
      ctx.lineWidth = i === 0 ? 2 : 1.4;
      ctx.beginPath();
      ctx.moveTo(px, ys.getPixelForValue(8.6));
      ctx.lineTo(px, ys.getPixelForValue(9.55));
      ctx.stroke();
    });
    ctx.font = "37px " + font;
    ctx.textBaseline = "middle";
    segNames.forEach((name, i) => {
      ctx.save();
      ctx.translate(xs.getPixelForValue(segNameJD[i]), ys.getPixelForValue(9.03));
      ctx.scale(0.75, 1);
      ctx.fillText(name, 0, 0);
      ctx.restore();
    });

    ctx.restore();
  }
};

new Chart(document.getElementById("lightCurve"), {
  type: "line",
  data: {
    datasets: [
      Object.assign({ label: "nova", data: novaPoints }, curveStyle),
      Object.assign({ label: "quiescence", data: quietPoints }, curveStyle)
    ]
  },
  options: {
    responsive: false,
    animation: false,
    devicePixelRatio: 1,
    layout: { padding: { top: 3, right: 4, left: 0, bottom: 0 } },
    plugins: { legend: { display: false }, tooltip: { enabled: false } },
    scales: {
      x: {
        type: "linear",
        min: 14450,
        max: 57750,
        afterBuildTicks: s => { s.ticks = xMajor.map(v => ({ value: v })); },
        afterFit: s => { s.height = 99; s.paddingLeft = 0; s.paddingRight = 0; },
        grid: { display: false },
        border: { display: false },
        ticks: {
          color: "#000",
          font: { family: font, size: 40 },
          padding: 3,
          maxRotation: 0,
          autoSkip: false,
          callback: v => String(v)
        }
      },
      y: {
        type: "linear",
        reverse: true,
        min: 0,
        max: 15,
        afterFit: s => { s.width = 112.5; s.paddingTop = 0; s.paddingBottom = 0; },
        grid: { display: false },
        border: { display: false },
        ticks: { display: false }
      }
    }
  },
  plugins: [framePlugin]
});
</script>
</body>
</html>
